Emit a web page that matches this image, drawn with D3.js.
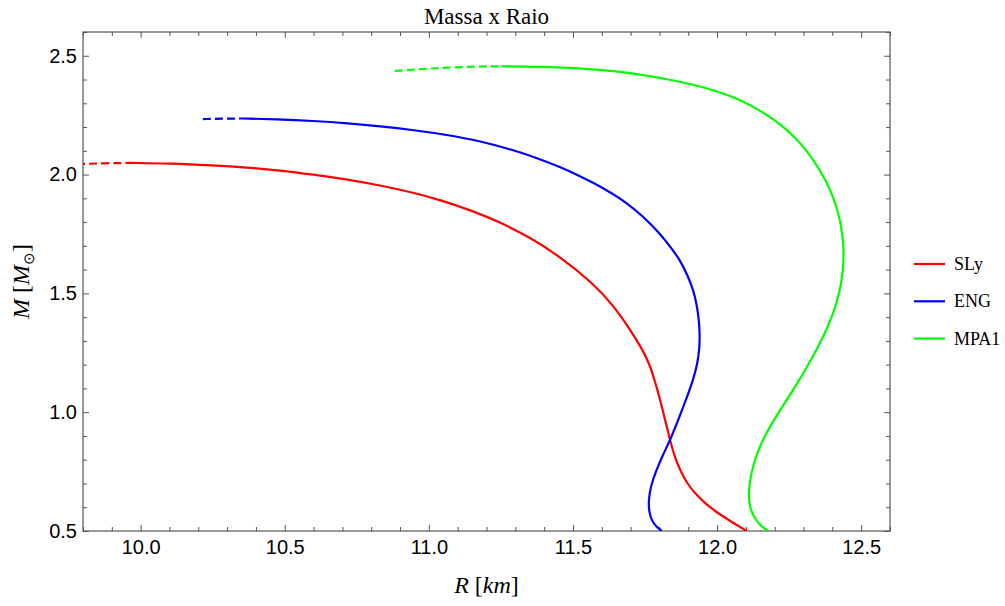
<!DOCTYPE html>
<html>
<head>
<meta charset="utf-8">
<script src="https://cdn.jsdelivr.net/npm/d3@7"></script>
<style>
  html, body { margin: 0; padding: 0; background: #fff; }
  svg { display: block; }
  .tick text { font-family: "Liberation Sans", Arial, sans-serif; font-size: 20px; fill: #000; }
</style>
</head>
<body>
<svg id="chart" width="1005" height="606"></svg>
<script>
// Mass-radius relations of neutron stars for three equations of state.
// Dashed pieces are the unstable branches beyond the maximum mass.

const seriesNames = ["SLy", "ENG", "MPA1"];
const seriesColors = ["#ff0000", "#0000ff", "#00ff00"];

// SLy (radius in km, mass in solar masses), from maximum mass downwards
const slyUnstableR = [9.78, 9.88, 9.97];
const slyUnstableM = [2.044, 2.048, 2.049];
const slyR = [9.97, 10.10, 10.25, 10.37, 10.48, 10.60, 10.71, 10.83, 10.95, 11.04, 11.15, 11.25, 11.35, 11.455, 11.571, 11.640, 11.700, 11.738, 11.765, 11.787, 11.806, 11.821, 11.837, 11.852, 11.872, 11.896, 11.925, 11.955, 11.997, 12.048, 12.103];
const slyM = [2.049, 2.047, 2.039, 2.030, 2.018, 2.000, 1.981, 1.955, 1.923, 1.893, 1.848, 1.798, 1.736, 1.655, 1.541, 1.450, 1.345, 1.270, 1.205, 1.120, 1.036, 0.960, 0.882, 0.815, 0.755, 0.700, 0.657, 0.620, 0.580, 0.540, 0.500];

// ENG
const engUnstableR = [10.216, 10.29, 10.355];
const engUnstableM = [2.2335, 2.2355, 2.236];
const engR = [10.355, 10.47, 10.60, 10.72, 10.83, 10.95, 11.06, 11.18, 11.29, 11.38, 11.455, 11.524, 11.571, 11.63, 11.686, 11.745, 11.802, 11.842, 11.872, 11.898, 11.918, 11.930, 11.937, 11.940, 11.939, 11.932, 11.918, 11.896, 11.866, 11.837, 11.812, 11.789, 11.770, 11.762, 11.764, 11.773, 11.787, 11.808];
const engM = [2.236, 2.233, 2.226, 2.216, 2.204, 2.187, 2.168, 2.141, 2.104, 2.068, 2.032, 1.994, 1.965, 1.925, 1.882, 1.822, 1.752, 1.690, 1.639, 1.575, 1.513, 1.450, 1.387, 1.330, 1.270, 1.205, 1.140, 1.064, 0.970, 0.882, 0.820, 0.755, 0.690, 0.629, 0.580, 0.545, 0.520, 0.500];

// MPA1
const mpaUnstableR = [10.882, 11.00, 11.13, 11.252];
const mpaUnstableM = [2.436, 2.4467, 2.4538, 2.456];
const mpaR = [11.252, 11.39, 11.524, 11.64, 11.756, 11.87, 11.987, 12.08, 12.161, 12.22, 12.271, 12.311, 12.358, 12.392, 12.415, 12.432, 12.440, 12.438, 12.427, 12.403, 12.363, 12.326, 12.285, 12.236, 12.189, 12.152, 12.126, 12.112, 12.109, 12.115, 12.135, 12.153, 12.178];
const mpaM = [2.456, 2.454, 2.448, 2.436, 2.418, 2.392, 2.357, 2.316, 2.262, 2.212, 2.155, 2.102, 2.018, 1.940, 1.864, 1.780, 1.695, 1.600, 1.513, 1.410, 1.303, 1.220, 1.134, 1.040, 0.952, 0.870, 0.784, 0.700, 0.643, 0.590, 0.545, 0.520, 0.500];

// Axis ticks
const xMajorTicks = [10.0, 10.5, 11.0, 11.5, 12.0, 12.5];
const yMajorTicks = [0.5, 1.0, 1.5, 2.0, 2.5];

const xDomain = [9.8, 12.6];
const yDomain = [0.5, 2.6];

const svg = d3.select("#chart");
const plotLeft = 83, plotRight = 890, plotTop = 32, plotBottom = 531;

const x = d3.scaleLinear().domain(xDomain).range([plotLeft, plotRight]);
const y = d3.scaleLinear().domain(yDomain).range([plotBottom, plotTop]);

const xMinor = d3.range(98, 127).map(v => v / 10);
const yMinor = d3.range(5, 27).map(v => v / 10);
const isMajor = (v, majors) => majors.some(m => Math.abs(m - v) < 1e-9);

svg.append("defs").append("clipPath").attr("id", "plotClip")
  .append("rect").attr("x", plotLeft).attr("y", plotTop)
  .attr("width", plotRight - plotLeft).attr("height", plotBottom - plotTop);

const frameColor = "#555555";
const majorLen = 6, minorLen = 4;

function styleAxis(g) {
  g.select(".domain").remove();
  g.selectAll(".tick line").attr("stroke", frameColor).attr("stroke-width", 1);
}

// bottom: labelled major ticks
svg.append("g").attr("transform", `translate(0,${plotBottom})`)
  .call(d3.axisBottom(x).tickValues(xMajorTicks).tickFormat(d3.format(".1f")).tickSize(-majorLen).tickPadding(9))
  .call(styleAxis);
svg.append("g").attr("transform", `translate(0,${plotBottom})`)
  .call(d3.axisBottom(x).tickValues(xMinor.filter(v => !isMajor(v, xMajorTicks))).tickFormat("").tickSize(-minorLen))
  .call(styleAxis);
// top: unlabelled
svg.append("g").attr("transform", `translate(0,${plotTop})`)
  .call(d3.axisTop(x).tickValues(xMajorTicks).tickFormat("").tickSize(-majorLen))
  .call(styleAxis);
svg.append("g").attr("transform", `translate(0,${plotTop})`)
  .call(d3.axisTop(x).tickValues(xMinor.filter(v => !isMajor(v, xMajorTicks))).tickFormat("").tickSize(-minorLen))
  .call(styleAxis);
// left: labelled
svg.append("g").attr("transform", `translate(${plotLeft},0)`)
  .call(d3.axisLeft(y).tickValues(yMajorTicks).tickFormat(d3.format(".1f")).tickSize(-majorLen).tickPadding(6))
  .call(styleAxis);
svg.append("g").attr("transform", `translate(${plotLeft},0)`)
  .call(d3.axisLeft(y).tickValues(yMinor.filter(v => !isMajor(v, yMajorTicks))).tickFormat("").tickSize(-minorLen))
  .call(styleAxis);
// right: unlabelled
svg.append("g").attr("transform", `translate(${plotRight},0)`)
  .call(d3.axisRight(y).tickValues(yMajorTicks).tickFormat("").tickSize(-majorLen))
  .call(styleAxis);
svg.append("g").attr("transform", `translate(${plotRight},0)`)
  .call(d3.axisRight(y).tickValues(yMinor.filter(v => !isMajor(v, yMajorTicks))).tickFormat("").tickSize(-minorLen))
  .call(styleAxis);

// frame
svg.append("rect")
  .attr("x", plotLeft).attr("y", plotTop)
  .attr("width", plotRight - plotLeft).attr("height", plotBottom - plotTop)
  .attr("fill", "none").attr("stroke", frameColor).attr("stroke-width", 1.2);

// curves
const line = d3.line().x(d => x(d[0])).y(d => y(d[1])).curve(d3.curveBasis);
const zip = (a, b) => a.map((v, i) => [v, b[i]]);

const curves = [
  { name: "SLy", unstable: zip(slyUnstableR, slyUnstableM), stable: zip(slyR, slyM) },
  { name: "ENG", unstable: zip(engUnstableR, engUnstableM), stable: zip(engR, engM) },
  { name: "MPA1", unstable: zip(mpaUnstableR, mpaUnstableM), stable: zip(mpaR, mpaM) }
];

const plot = svg.append("g").attr("clip-path", "url(#plotClip)");
curves.forEach((c, i) => {
  const col = seriesColors[i];
  plot.append("path").attr("d", line(c.unstable))
    .attr("fill", "none").attr("stroke", col).attr("stroke-width", 2.2)
    .attr("stroke-dasharray", "8,4");
  plot.append("path").attr("d", line(c.stable))
    .attr("fill", "none").attr("stroke", col).attr("stroke-width", 2.2)
    .attr("stroke-linejoin", "round");
});

// title
svg.append("text")
  .attr("x", (plotLeft + plotRight) / 2).attr("y", 24)
  .attr("text-anchor", "middle")
  .attr("font-family", "'Liberation Serif', 'Times New Roman', serif")
  .attr("font-size", 23)
  .text("Massa x Raio");

// x axis label: R [km]
const xl = svg.append("text")
  .attr("x", (plotLeft + plotRight) / 2).attr("y", 593)
  .attr("text-anchor", "middle")
  .attr("font-family", "'Liberation Serif', 'Times New Roman', serif")
  .attr("font-size", 24);
xl.append("tspan").attr("font-style", "italic").text("R");
xl.append("tspan").text(" [");
xl.append("tspan").attr("font-style", "italic").text("km");
xl.append("tspan").text("]");

// y axis label: M [M_⊙]
const yl = svg.append("text")
  .attr("transform", `translate(29,${(plotTop + plotBottom) / 2}) rotate(-90)`)
  .attr("text-anchor", "middle")
  .attr("font-family", "'Liberation Serif', 'Times New Roman', serif")
  .attr("font-size", 24);
yl.append("tspan").attr("font-style", "italic").text("M");
yl.append("tspan").text(" [");
yl.append("tspan").attr("font-style", "italic").text("M");
yl.append("tspan").attr("font-size", 15).attr("dy", 5).text("\u2299");
yl.append("tspan").attr("dy", -5).text("]");

// legend
const legend = svg.append("g");
seriesNames.forEach((name, i) => {
  const ly = 264 + i * 37.3;
  legend.append("line")
    .attr("x1", 914).attr("x2", 945).attr("y1", ly).attr("y2", ly)
    .attr("stroke", seriesColors[i]).attr("stroke-width", 2.2);
  legend.append("text")
    .attr("x", 954).attr("y", ly + 6)
    .attr("font-family", "'Liberation Serif', 'Times New Roman', serif")
    .attr("font-size", 18)
    .text(name);
});
</script>
</body>
</html>
